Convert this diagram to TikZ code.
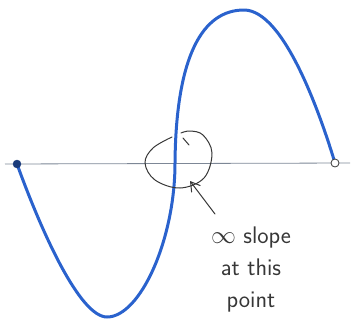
\documentclass[tikz,border=0pt]{standalone}
\usetikzlibrary{arrows.meta}
\definecolor{curveblue}{RGB}{42,98,205}
\definecolor{axisgray}{RGB}{125,135,150}
\definecolor{pencil}{RGB}{55,55,55}
\tikzset{
  curveline/.style={draw=curveblue, line width=3pt, line cap=round},
  axisline/.style={draw=axisgray, line width=0.8pt},
  pencilline/.style={draw=pencil, line width=1pt, line cap=round},
  pointer/.style={pencilline, -{Straight Barb[length=9pt,width=11pt]}},
  note/.style={text=pencil, align=center, font=\sffamily\fontsize{24}{32}\selectfont}
}
\begin{document}
\begin{tikzpicture}[x=1pt, y=-1pt]
\useasboundingbox (0,0) rectangle (354,322);
% axis through the two end points
\coordinate (lend) at (17,164);
\coordinate (rend) at (335,163);
\coordinate (cross) at (175,163);
\draw[axisline] (5,164) -- (350,163);
% the curve: min below the axis, vertical tangent at the crossing, max above
\draw[curveline] (lend) .. controls (42,233) and (80,317) .. (107,317)
  .. controls (140,317) and (175,240) .. (cross)
  .. controls (176,55) and (203,10) .. (244,10)
  .. controls (285,10) and (322,120) .. (rend);
% end points: closed on the left, open on the right
\filldraw[fill=curveblue!60!black, draw=curveblue!60!black] (lend) circle (4);
\filldraw[fill=white, draw=pencil, line width=0.8pt] (rend) circle (4);
% loop drawn round the crossing
\draw[pencilline] plot[smooth, tension=0.6] coordinates {(172,137) (153,148) (145,163)
  (155,180) (180,188) (204,178) (212,153) (203,135) (190,131) (181,133)};
\draw[pencilline] (183,138) -- (189,145);
% label and arrow
\node[note] (lbl) at (251,270) {$\infty$ slope\\at this\\point};
\coordinate (tail) at (215,214);
\coordinate (tip) at (190,181);
\draw[pointer] (tail) -- (tip);
\end{tikzpicture}
\end{document}
